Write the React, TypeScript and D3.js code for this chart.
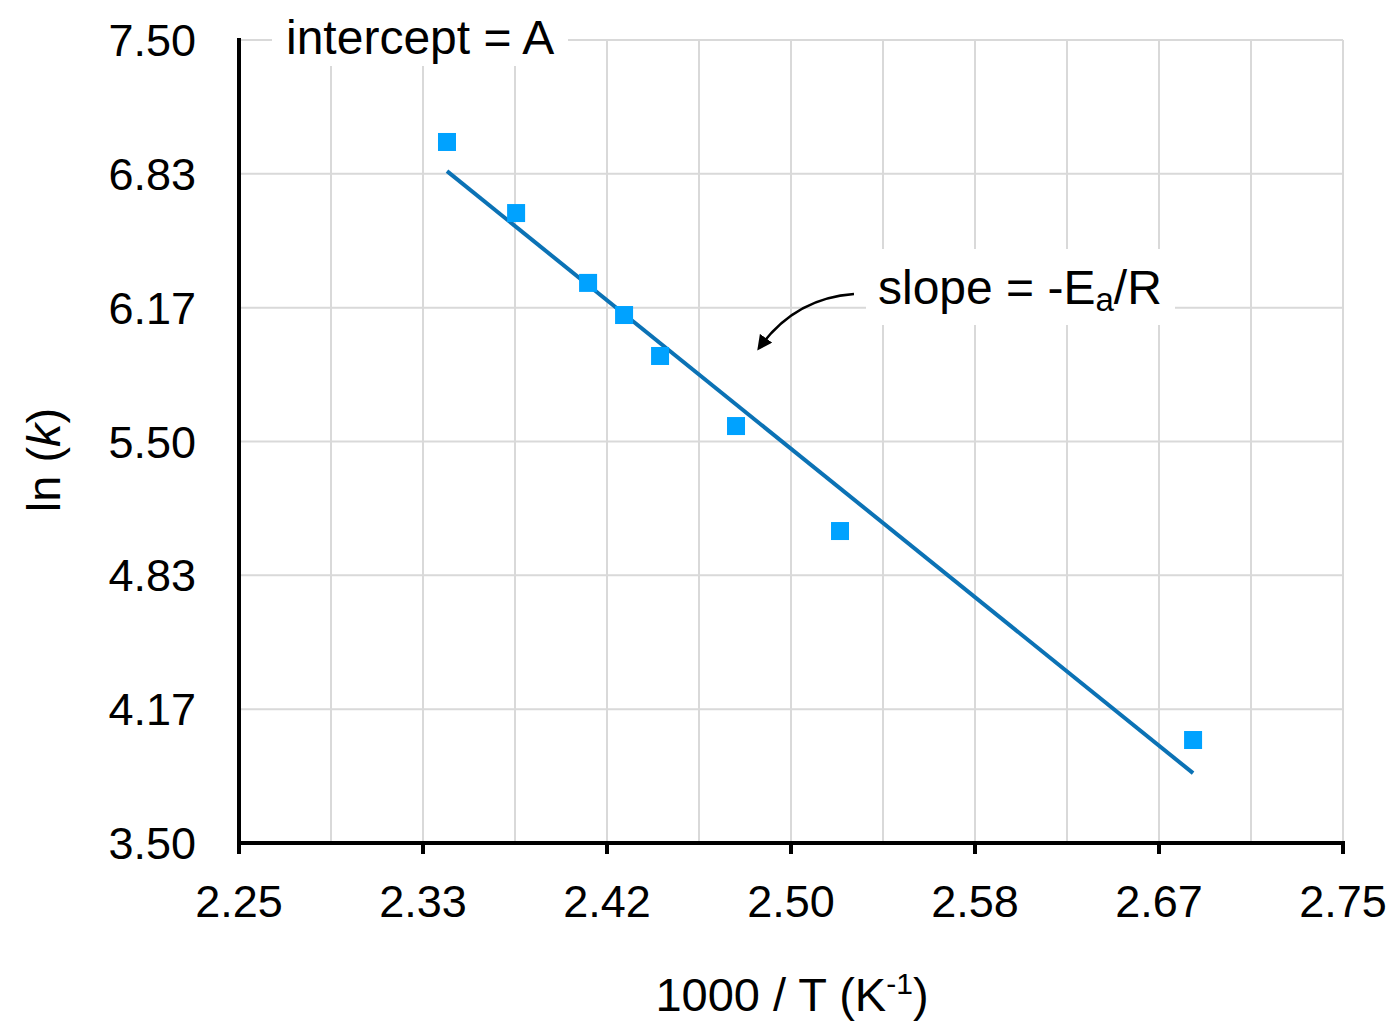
import React from "react";
import * as d3 from "d3";

const invT = [2.3442, 2.3755, 2.4081, 2.4244, 2.4407, 2.4751, 2.5222, 2.6821];
const lnK = [6.992, 6.638, 6.29, 6.13, 5.926, 5.577, 5.054, 4.013];
const xTickLabels = ["2.25", "2.33", "2.42", "2.50", "2.58", "2.67", "2.75"];
const yTickLabels = ["3.50", "4.17", "4.83", "5.50", "6.17", "6.83", "7.50"];
const xDomain = [2.25, 2.75];
const yDomain = [3.5, 7.5];

const W = 1395, H = 1023;
const M = { left: 239, right: 1343, top: 40, bottom: 843 };
const FONT = "'Liberation Sans', Arial, Helvetica, sans-serif";

export default function App() {
  const x = d3.scaleLinear().domain(xDomain).range([M.left, M.right]);
  const y = d3.scaleLinear().domain(yDomain).range([M.bottom, M.top]);

  const xGrid = d3.range(0, 13).map((i) => xDomain[0] + (i * (xDomain[1] - xDomain[0])) / 12);
  const yGrid = d3.range(0, 7).map((i) => yDomain[0] + (i * (yDomain[1] - yDomain[0])) / 6);
  const xMajor = xTickLabels.map((_, i) => xDomain[0] + (i * (xDomain[1] - xDomain[0])) / 6);

  // least squares fit
  const mx = d3.mean(invT)!;
  const my = d3.mean(lnK)!;
  const sxy = d3.sum(invT.map((v, i) => (v - mx) * (lnK[i] - my)));
  const sxx = d3.sum(invT.map((v) => (v - mx) ** 2));
  const slope = sxy / sxx;
  const icpt = my - slope * mx;
  const x0 = d3.min(invT)!, x1 = d3.max(invT)!;
  const fitLine = d3.line<number>().x((v) => x(v)).y((v) => y(icpt + slope * v))([x0, x1]);

  const sq = 18;

  return (
    <div style={{ position: "absolute", left: 0, top: 0 }}>
      <svg width={W} height={H} style={{ display: "block", background: "#fff" }} fontFamily={FONT}>
        <defs>
          <marker id="ah" viewBox="0 0 10 10" refX="8" refY="5" markerWidth="6" markerHeight="6" orient="auto">
            <path d="M0,0 L10,5 L0,10 Z" fill="#000" />
          </marker>
        </defs>
        {/* grid */}
        {xGrid.map((v, i) => (
          <line key={"gx" + i} x1={x(v)} x2={x(v)} y1={y(yDomain[1])} y2={y(yDomain[0])} stroke="#d9d9d9" strokeWidth={2} />
        ))}
        {yGrid.map((v, i) => (
          <line key={"gy" + i} x1={x(xDomain[0])} x2={x(xDomain[1])} y1={y(v)} y2={y(v)} stroke="#d9d9d9" strokeWidth={2} />
        ))}
        {/* axes */}
        <line x1={M.left} x2={M.left} y1={M.top - 2} y2={M.bottom + 2} stroke="#000" strokeWidth={4} />
        <line x1={M.left - 2} x2={M.right + 2} y1={M.bottom} y2={M.bottom} stroke="#000" strokeWidth={4} />
        {xMajor.map((v, i) => (
          <line key={"tx" + i} x1={x(v)} x2={x(v)} y1={M.bottom} y2={M.bottom + 11} stroke="#000" strokeWidth={4} />
        ))}
        {/* tick labels */}
        {xMajor.map((v, i) => (
          <text key={"lx" + i} x={x(v)} y={917} textAnchor="middle" fontSize={45} fill="#000">
            {xTickLabels[i]}
          </text>
        ))}
        {yGrid.map((v, i) => (
          <text key={"ly" + i} x={196} y={y(v) + 16} textAnchor="end" fontSize={45} fill="#000">
            {yTickLabels[i]}
          </text>
        ))}
        {/* fit line */}
        <path d={fitLine || ""} stroke="#0b72b5" strokeWidth={4} fill="none" />
        {/* points */}
        {invT.map((v, i) => (
          <rect key={"p" + i} x={x(v) - sq / 2} y={y(lnK[i]) - sq / 2} width={sq} height={sq} fill="#00a2ff" />
        ))}
        {/* intercept annotation */}
        <rect x={272} y={14} width={296} height={52} fill="#fff" />
        <text x={286} y={54} fontSize={48} fill="#000">intercept = A</text>
        {/* slope annotation */}
        <rect x={866} y={249} width={309} height={76} fill="#fff" />
        <text x={878} y={304} fontSize={48} fill="#000">
          slope = -E<tspan fontSize={33} dy={7}>a</tspan>
          <tspan dy={-7}>/R</tspan>
        </text>
        <path d="M854,294 Q795,298 759,348" stroke="#000" strokeWidth={2.5} fill="none" markerEnd="url(#ah)" />
        {/* axis titles */}
        <text x={792} y={1011} textAnchor="middle" fontSize={47} fill="#000">
          1000 / T (K<tspan fontSize={30} dy={-17}>-1</tspan>
          <tspan dy={17}>)</tspan>
        </text>
        <text transform="translate(60,460) rotate(-90)" textAnchor="middle" fontSize={47} fill="#000">
          ln (<tspan fontStyle="italic">k</tspan>)
        </text>
      </svg>
    </div>
  );
}
